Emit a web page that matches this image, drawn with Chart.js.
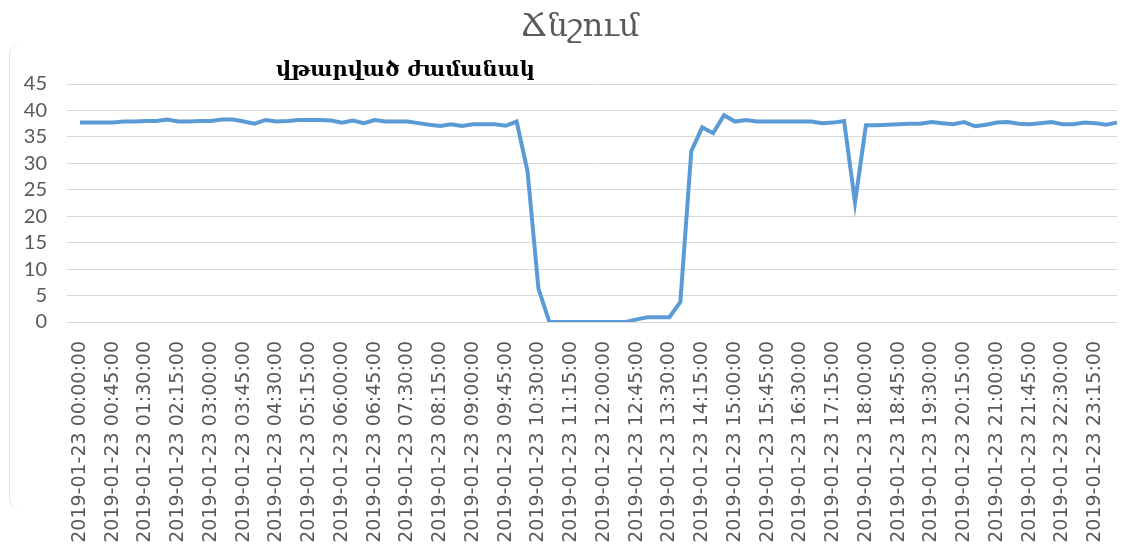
<!DOCTYPE html>
<html>
<head>
<meta charset="utf-8">
<script src="https://cdn.jsdelivr.net/npm/chart.js@4/dist/chart.umd.min.js"></script>
<style>
  html, body { margin: 0; padding: 0; background: #fff; }
  #wrap { position: relative; width: 1143px; height: 554px; }
  #frame { position: absolute; left: 9px; top: 42px; width: 30px; height: 470px;
           border-left: 1px solid #e4e4e4; border-radius: 14px 0 0 14px; }
  canvas { position: absolute; left: 0; top: 0; }
</style>
</head>
<body>
<div id="wrap">
  <div id="frame"></div>
  <canvas id="chart" width="1143" height="554"></canvas>
</div>
<script>
const TITLE    = 'Ճնշում';
const NOTE     = 'վթարված ժամանակ';
const DAY      = '2019-01-23';
const Y_MIN    = 0;
const Y_MAX    = 45;
const Y_STEP   = 5;

// 15-minute readings, 00:00 .. 23:45
const pressure = [
  37.7, 37.7, 37.7, 37.7, 37.9, 37.9, 38.0, 38.0, 38.3, 37.9, 37.9, 38.0,
  38.0, 38.3, 38.3, 37.9, 37.5, 38.2, 37.9, 38.0, 38.2, 38.2, 38.2, 38.1,
  37.7, 38.1, 37.6, 38.2, 37.9, 37.9, 37.9, 37.6, 37.3, 37.05, 37.4, 37.05,
  37.4, 37.4, 37.4, 37.1, 37.9, 28.5, 6.3, 0, 0, 0, 0, 0,
  0, 0, 0, 0.5, 0.9, 0.9, 0.9, 3.8, 32.3, 36.8, 35.7, 39.1,
  37.9, 38.2, 37.9, 37.9, 37.9, 37.9, 37.9, 37.9, 37.6, 37.7, 38.0, 22.6,
  37.2, 37.2, 37.3, 37.4, 37.5, 37.5, 37.8, 37.6, 37.4, 37.8, 37.0, 37.3,
  37.7, 37.8, 37.5, 37.4, 37.6, 37.8, 37.4, 37.4, 37.7, 37.6, 37.3, 37.7
];

const pad2 = n => String(n).padStart(2, '0');
const times = pressure.map((_, i) =>
  `${DAY} ${pad2(Math.floor(i / 4))}:${pad2((i % 4) * 15)}:00`);

const GREY = '#595959';
const GRID = '#d9d9d9';

// chart title + the text box inside the plot, as in the sheet
const textPlugin = {
  id: 'texts',
  afterDraw(chart) {
    const { ctx, chartArea } = chart;
    ctx.save();
    ctx.textBaseline = 'middle';
    ctx.textAlign = 'center';
    ctx.fillStyle = GREY;
    ctx.font = '32px "DejaVu Serif", serif';
    ctx.fillText(TITLE, 580, 28);
    ctx.textAlign = 'left';
    ctx.fillStyle = '#000';
    ctx.font = 'bold 21px "DejaVu Serif", serif';
    ctx.fillText(NOTE, chartArea.left + 196, chartArea.top - 13);
    ctx.restore();
  }
};

new Chart(document.getElementById('chart'), {
  type: 'line',
  data: {
    labels: times,
    datasets: [{
      data: pressure,
      borderColor: '#5b9bd5',
      borderWidth: 4,
      pointRadius: 0,
      tension: 0,
      fill: false
    }]
  },
  options: {
    responsive: false,
    animation: false,
    layout: { padding: { left: 0, right: 26, top: 84, bottom: 0 } },
    plugins: {
      legend: { display: false },
      tooltip: { enabled: false },
      title: { display: false }
    },
    scales: {
      x: {
        offset: false,
        grid: { display: false, drawTicks: false },
        border: { display: false },
        afterFit(scale) { scale.height = 554 - 322; },
        ticks: {
          autoSkip: false,
          minRotation: 90,
          maxRotation: 90,
          padding: 19,
          color: GREY,
          font: { family: '"DejaVu Sans"', size: 19 },
          callback(val, idx) { return idx % 3 === 0 ? this.getLabelForValue(val) : null; }
        }
      },
      y: {
        min: Y_MIN,
        max: Y_MAX,
        afterFit(scale) { scale.width = 80; },
        grid: { color: GRID, lineWidth: 1, tickLength: 13, tickColor: GRID },
        border: { display: false },
        ticks: {
          stepSize: Y_STEP,
          autoSkip: false,
          padding: 20,
          color: GREY,
          font: { family: 'Lato', size: 20 }
        }
      }
    }
  },
  plugins: [textPlugin]
});
</script>
</body>
</html>
